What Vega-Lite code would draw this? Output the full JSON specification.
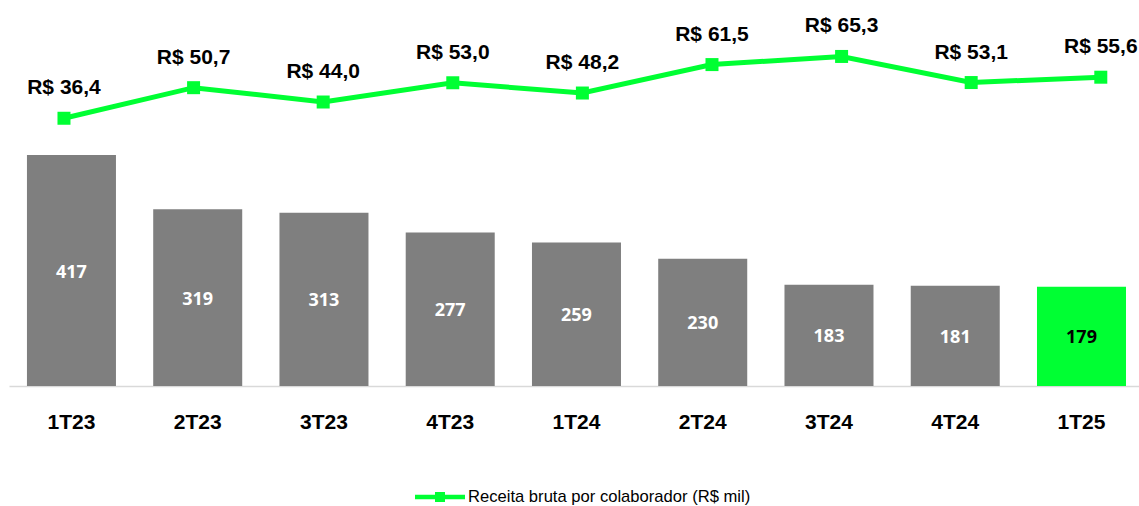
{
  "$schema": "https://vega.github.io/schema/vega-lite/v6.json",
  "autosize": {"type": "none"},
  "width": 1130,
  "height": 386,
  "padding": {"left": 9, "top": 0, "right": 0, "bottom": 120},
  "background": "white",
  "config": {"view": {"stroke": null}},
  "data": {
    "values": [
      {"q": "1T23", "colab": 417, "receita": 36.4, "label": "R$ 36,4"},
      {"q": "2T23", "colab": 319, "receita": 50.7, "label": "R$ 50,7"},
      {"q": "3T23", "colab": 313, "receita": 44.0, "label": "R$ 44,0"},
      {"q": "4T23", "colab": 277, "receita": 53.0, "label": "R$ 53,0"},
      {"q": "1T24", "colab": 259, "receita": 48.2, "label": "R$ 48,2"},
      {"q": "2T24", "colab": 230, "receita": 61.5, "label": "R$ 61,5"},
      {"q": "3T24", "colab": 183, "receita": 65.3, "label": "R$ 65,3"},
      {"q": "4T24", "colab": 181, "receita": 53.1, "label": "R$ 53,1"},
      {"q": "1T25", "colab": 179, "receita": 55.6, "label": "R$ 55,6"}
    ]
  },
  "layer": [
    {
      "mark": {"type": "bar"},
      "encoding": {
        "x": {
          "field": "q", "type": "ordinal", "sort": null,
          "scale": {"type": "band", "paddingInner": 0.295, "paddingOuter": 0.1226, "align": 0.58},
          "axis": {
            "title": null, "grid": false, "ticks": false, "tickSize": 0,
            "domainColor": "#d9d9d9", "domainWidth": 1.5,
            "labelFont": "Liberation Sans", "labelFontSize": 21, "labelFontWeight": "bold",
            "labelColor": "#000000", "labelPadding": 36, "labelBaseline": "middle", "labelAngle": 0
          }
        },
        "y": {"field": "colab", "type": "quantitative", "scale": {"domain": [0, 697], "nice": false, "zero": true}, "axis": null},
        "color": {"condition": {"test": "datum.q === '1T25'", "value": "#00ff33"}, "value": "#7f7f7f"}
      }
    },
    {
      "mark": {"type": "text", "font": "Open Sans", "fontSize": 18, "fontWeight": "bold", "baseline": "middle", "align": "center", "dy": 2},
      "encoding": {
        "x": {
          "field": "q", "type": "ordinal", "sort": null,
          "scale": {"type": "band", "paddingInner": 0.295, "paddingOuter": 0.1226, "align": 0.58},
          "axis": null
        },
        "y": {"field": "colab", "type": "quantitative", "scale": {"domain": [0, 1394], "nice": false, "zero": true}, "axis": null},
        "text": {"field": "colab", "type": "quantitative"},
        "color": {"condition": {"test": "datum.q === '1T25'", "value": "#000000"}, "value": "#ffffff"}
      }
    },
    {
      "mark": {"type": "line", "strokeWidth": 5, "point": {"shape": "square", "size": 169, "filled": true, "opacity": 1}},
      "encoding": {
        "x": {
          "field": "q", "type": "ordinal", "sort": null,
          "scale": {"type": "point", "padding": 0.3595, "align": 0.59},
          "axis": null
        },
        "y": {"field": "receita", "type": "quantitative", "scale": {"domain": [-88.8, 91.7], "nice": false, "zero": false}, "axis": null},
        "color": {
          "datum": "Receita bruta por colaborador (R$ mil)",
          "scale": {"range": ["#00ff33"]},
          "legend": {
            "title": null, "orient": "none", "legendX": 421, "legendY": 487, "padding": 0,
            "symbolType": "M-2.5,-0.23H2.5V0.23H-2.5Z M-0.5,-0.5H0.5V0.5H-0.5Z",
            "symbolSize": 400, "symbolFillColor": "#00ff33", "symbolStrokeWidth": 0,
            "labelFont": "Liberation Sans", "labelFontSize": 16.6, "labelColor": "#000000", "labelOffset": 18,
            "labelLimit": 500,
            "encode": {"symbols": {"update": {"fill": {"value": "#00ff33"}, "stroke": {"value": "transparent"}, "strokeWidth": {"value": 0}, "opacity": {"value": 1}}}}
          }
        }
      }
    },
    {
      "mark": {"type": "text", "font": "Liberation Sans", "fontSize": 21, "fontWeight": "bold", "baseline": "middle", "align": "center", "dy": -30, "color": "#000000"},
      "encoding": {
        "x": {
          "field": "q", "type": "ordinal", "sort": null,
          "scale": {"type": "point", "padding": 0.3595, "align": 0.59},
          "axis": null
        },
        "y": {"field": "receita", "type": "quantitative", "scale": {"domain": [-88.8, 91.7], "nice": false, "zero": false}, "axis": null},
        "text": {"field": "label", "type": "nominal"}
      }
    }
  ],
  "resolve": {"scale": {"x": "independent", "y": "independent"}}
}
